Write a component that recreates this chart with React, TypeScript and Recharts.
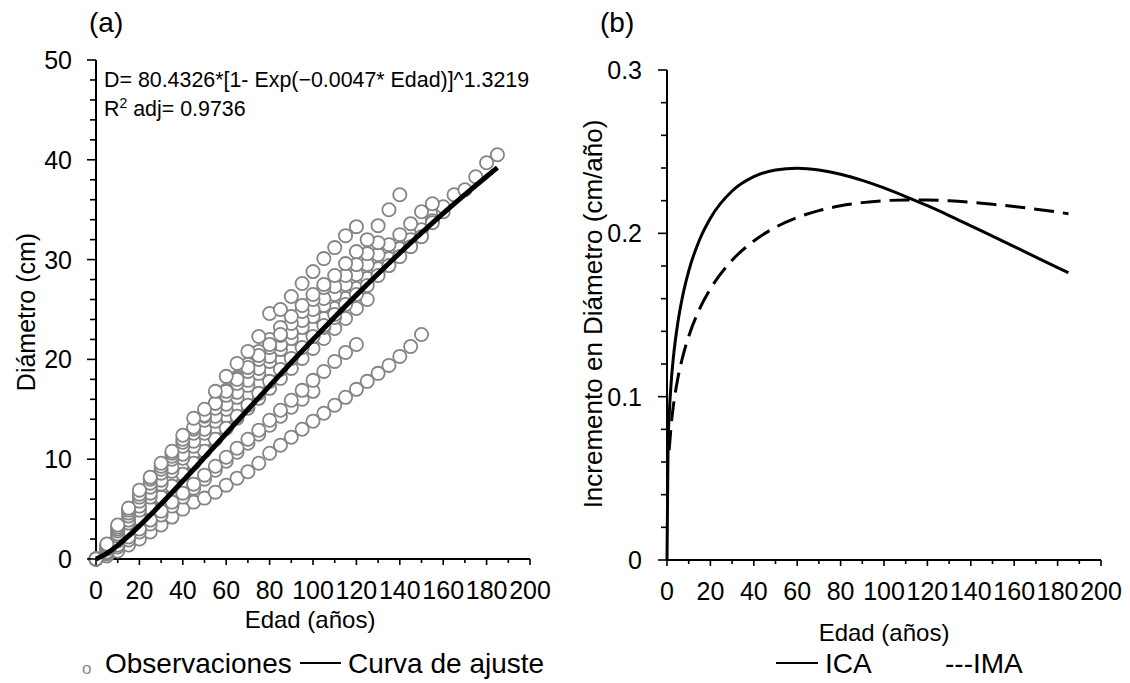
import React from 'react';
import { ComposedChart, Scatter, Line, XAxis, YAxis } from 'recharts';

const FONT = '"Liberation Sans", Arial, Helvetica, sans-serif';

// Ages (years) shared by the observation series: index i -> AGES[i]
const AGES = [0, 5, 10, 15, 20, 25, 30, 35, 40, 45, 50, 55, 60, 65, 70, 75, 80, 85, 90, 95, 100, 105, 110, 115, 120, 125, 130, 135, 140, 145, 150, 155, 160, 165, 170, 175, 180, 185];

const treeA = [0, 1.5, 3.4, 5.1, 6.9, 8.2, 9.6, 10.8, 12.4, 14.1, 15.0, 16.8, 18.3, 19.6, 20.8, 22.3, 24.6, 25.0, 26.3, 27.6, 28.8, 30.1, 31.2, 32.4, 33.3];
const treeM = [0, 1.4, 3.2, 4.9, 6.5, 8.0, 9.3, 10.6, 12.0, 13.2, 14.4, 15.6, 16.8, 18.0, 19.2, 20.4, 21.5, 22.5];
const treeH = [0, 1.3, 3.0, 4.6, 6.2, 7.6, 9.0, 10.3, 11.7, 13.0, 14.3, 15.6, 16.9, 18.2, 19.5, 20.8, 22.0, 23.2, 24.3, 25.4, 26.5, 27.5];
const treeB = [0, 1.2, 2.8, 4.3, 5.8, 7.2, 8.6, 10.0, 11.3, 12.6, 13.9, 15.1, 16.4, 17.6, 18.8, 20.0, 21.2, 22.4, 23.6, 24.8, 26.0, 27.2, 28.4, 29.6, 30.8, 32.0, 33.4, 35.0, 36.5];
const treeG = [0, 1.1, 2.5, 3.9, 5.3, 6.6, 7.9, 9.2, 10.5, 11.8, 13.0, 14.3, 15.5, 16.7, 17.9, 19.1, 20.3, 21.5, 22.7, 23.9, 25.0, 26.1, 27.3, 28.4, 29.5, 30.6, 31.7];
const treeC = [0, 1.0, 2.3, 3.6, 4.9, 6.2, 7.5, 8.8, 10.1, 11.3, 12.6, 13.8, 15.0, 16.2, 17.4, 18.6, 19.8, 21.0, 22.1, 23.2, 24.3, 25.4, 26.5, 27.5, 28.5, 29.5, 30.5, 31.5, 32.5, 33.6, 34.8, 35.6];
const treeL = [0, 0.9, 2.2, 3.5, 4.8, 6.0, 7.2, 8.4, 9.6, 10.7, 11.8, 12.9, 14.0, 15.1, 16.1, 17.1, 18.2, 19.2, 20.3, 21.3, 22.3, 23.2, 24.2];
const treeK = [0, 0.9, 2.1, 3.4, 4.6, 5.9, 7.1, 8.3, 9.5, 10.7, 11.9, 13.1, 14.3, 15.4, 16.5, 17.6, 18.7, 19.8, 20.9, 22.0, 23.1, 24.1, 25.1, 26.1, 27.1, 28.1, 29.1, 30.1, 31.1, 32.0, 33.0, 33.9, 34.8];
const treeD = [0, 0.7, 1.8, 2.9, 4.0, 5.1, 6.2, 7.3, 8.5, 9.6, 10.8, 12.0, 13.1, 14.3, 15.4, 16.6, 17.8, 19.0, 20.1, 21.2, 22.3, 23.4, 24.5, 25.5, 26.5, 27.4, 28.4, 29.4, 30.3, 31.3, 32.3, 33.7, 35.3, 36.5, 37.0, 38.3, 39.7, 40.5];
const treeI = [0, 0.8, 2.0, 3.2, 4.3, 5.5, 6.6, 7.7, 8.8, 9.9, 11.0, 12.0, 13.1, 14.1, 15.1, 16.1, 17.1, 18.1, 19.1, 20.1, 21.1, 22.1, 23.1, 24.1, 25.1, 26.0];
const treeF = [0, 0.6, 1.4, 2.2, 3.0, 3.9, 4.8, 5.7, 6.6, 7.5, 8.4, 9.3, 10.2, 11.1, 12.0, 12.9, 13.9, 14.9, 15.9, 16.9, 17.9, 18.8, 19.8, 20.7, 21.5];
const treeJ = [0, 0.5, 1.2, 1.9, 2.7, 3.5, 4.4, 5.3, 6.2, 7.1, 8.0, 8.9, 9.8, 10.7, 11.6, 12.5, 13.4, 14.3, 15.2, 16.0, 16.8];
const treeE = [0, 0.3, 0.8, 1.4, 2.0, 2.7, 3.4, 4.2, 5.0, 5.7, 6.1, 6.7, 7.4, 8.1, 8.75, 9.6, 10.6, 11.4, 12.2, 13.0, 13.8, 14.6, 15.4, 16.2, 17.0, 17.8, 18.6, 19.4, 20.3, 21.3, 22.5];

const TREES = [treeE, treeJ, treeF, treeI, treeL, treeK, treeD, treeC, treeG, treeB, treeH, treeM, treeA];

// Fitted curve (diameter, cm)
const FIT_AGES = [0, 5, 10, 15, 20, 30, 40, 50, 60, 70, 80, 90, 100, 110, 120, 130, 140, 150, 160, 170, 180, 185];
const FIT_D = [0, 0.56, 1.37, 2.31, 3.32, 5.51, 7.81, 10.18, 12.58, 14.98, 17.35, 19.69, 22.0, 24.25, 26.44, 28.58, 30.66, 32.67, 34.63, 36.51, 38.33, 39.22];

// Panel (b): current (ICA) and mean (IMA) annual increments
const ICA_AGES = [0, 0.5, 1, 2, 3, 5, 7, 10, 15, 20, 30, 40, 50, 60, 70, 80, 90, 100, 110, 120, 130, 140, 150, 160, 170, 180, 185];
const ICA_VALUES = [0, 0.071, 0.0885, 0.11, 0.1247, 0.1454, 0.1603, 0.1769, 0.1961, 0.2093, 0.2259, 0.2347, 0.2388, 0.2399, 0.2388, 0.2362, 0.2324, 0.2278, 0.2225, 0.2169, 0.2109, 0.2046, 0.1983, 0.1919, 0.1854, 0.179, 0.1759];
const IMA_AGES = [1, 2, 3, 5, 7, 10, 15, 20, 30, 40, 50, 60, 70, 80, 90, 100, 110, 120, 130, 140, 150, 160, 170, 180, 185];
const IMA_VALUES = [0.0672, 0.0837, 0.095, 0.1113, 0.1232, 0.1369, 0.1537, 0.166, 0.1835, 0.1953, 0.2037, 0.2097, 0.2139, 0.2169, 0.2188, 0.22, 0.2204, 0.2204, 0.2199, 0.219, 0.2178, 0.2164, 0.2148, 0.213, 0.212];

const X_TICKS = [0, 10, 20, 30, 40, 50, 60, 70, 80, 90, 100, 110, 120, 130, 140, 150, 160, 170, 180, 190, 200];
const Y_LEFT_TICKS = [0, 2, 4, 6, 8, 10, 12, 14, 16, 18, 20, 22, 24, 26, 28, 30, 32, 34, 36, 38, 40, 42, 44, 46, 48, 50];
const Y_RIGHT_TICKS = [0, 0.02, 0.04, 0.06, 0.08, 0.1, 0.12, 0.14, 0.16, 0.18, 0.2, 0.22, 0.24, 0.26, 0.28, 0.3];

const treeData = TREES.map((t) => t.map((d, i) => ({ age: AGES[i], d })));
const fitData = FIT_AGES.map((a, i) => ({ age: a, d: FIT_D[i] }));
const icaData = ICA_AGES.map((a, i) => ({ age: a, v: ICA_VALUES[i] }));
const imaData = IMA_AGES.map((a, i) => ({ age: a, v: IMA_VALUES[i] }));

const TICK_FS = 25;

function XTick(props: any) {
  const { x, y, payload } = props;
  const v = payload.value;
  const major = v % 20 === 0;
  return (
    <g>
      <line x1={x} x2={x} y1={y} y2={y + (major ? 6 : 4)} stroke="#000" strokeWidth={1.6} />
      {major && (
        <text x={x} y={y + 40} textAnchor="middle" fontSize={TICK_FS} fontFamily={FONT} fill="#000">
          {v}
        </text>
      )}
    </g>
  );
}

function YTickLeft(props: any) {
  const { x, y, payload } = props;
  const v = payload.value;
  const major = v % 10 === 0;
  return (
    <g>
      <line x1={x - (major ? 9 : 6)} x2={x} y1={y} y2={y} stroke="#000" strokeWidth={1.6} />
      {major && (
        <text x={x - 24} y={y} dy="0.36em" textAnchor="end" fontSize={TICK_FS} fontFamily={FONT} fill="#000">
          {v}
        </text>
      )}
    </g>
  );
}

function YTickRight(props: any) {
  const { x, y, payload } = props;
  const v = payload.value;
  const major = Math.round(v * 100) % 10 === 0;
  return (
    <g>
      <line x1={x - (major ? 9 : 6)} x2={x} y1={y} y2={y} stroke="#000" strokeWidth={1.6} />
      {major && (
        <text x={x - 25} y={y} dy="0.36em" textAnchor="end" fontSize={TICK_FS} fontFamily={FONT} fill="#000">
          {String(Math.round(v * 10) / 10)}
        </text>
      )}
    </g>
  );
}

function Ring(props: any) {
  const { cx, cy } = props;
  if (cx == null || cy == null) return <g />;
  return <circle cx={cx} cy={cy} r={6.6} fill="#fff" stroke="#858585" strokeWidth={1.8} />;
}

function NoMark() {
  return <g />;
}

const axisLine = { stroke: '#000', strokeWidth: 2 };

export default function App() {
  return (
    <div style={{ position: 'absolute', left: 0, top: 0, width: 1130, height: 683, background: '#fff' }}>
      <div style={{ position: 'absolute', left: 0, top: 0 }}>
        <ComposedChart width={560} height={640} margin={{ top: 60, right: 30, bottom: 51, left: 0 }}>
          <XAxis
            type="number"
            dataKey="age"
            domain={[0, 200]}
            ticks={X_TICKS}
            interval={0}
            height={30}
            tickSize={0}
            tickMargin={0}
            tickLine={false}
            axisLine={axisLine}
            tick={<XTick />}
          />
          <YAxis
            type="number"
            dataKey="d"
            domain={[0, 50]}
            ticks={Y_LEFT_TICKS}
            interval={0}
            width={96}
            tickSize={0}
            tickMargin={0}
            tickLine={false}
            axisLine={axisLine}
            tick={<YTickLeft />}
          />
          {treeData.map((data, i) => (
            <Scatter key={i} data={data} dataKey="d" shape={<Ring />} isAnimationActive={false} />
          ))}
          <Scatter
            data={fitData}
            dataKey="d"
            shape={<NoMark />}
            line={{ stroke: '#000', strokeWidth: 5, fill: 'none' }}
            lineJointType="monotoneX"
            isAnimationActive={false}
          />
        </ComposedChart>
      </div>
      <div style={{ position: 'absolute', left: 560, top: 0 }}>
        <ComposedChart width={570} height={640} margin={{ top: 70, right: 29, bottom: 50, left: 0 }}>
          <XAxis
            type="number"
            dataKey="age"
            domain={[0, 200]}
            ticks={X_TICKS}
            interval={0}
            height={30}
            tickSize={0}
            tickMargin={0}
            tickLine={false}
            axisLine={axisLine}
            tick={<XTick />}
          />
          <YAxis
            type="number"
            dataKey="v"
            domain={[0, 0.3]}
            ticks={Y_RIGHT_TICKS}
            interval={0}
            width={107}
            tickSize={0}
            tickMargin={0}
            tickLine={false}
            axisLine={axisLine}
            tick={<YTickRight />}
          />
          <Line
            data={icaData}
            dataKey="v"
            type="monotone"
            stroke="#000"
            strokeWidth={3}
            dot={false}
            activeDot={false}
            isAnimationActive={false}
          />
          <Line
            data={imaData}
            dataKey="v"
            type="monotone"
            stroke="#000"
            strokeWidth={3}
            strokeDasharray="20 9"
            dot={false}
            activeDot={false}
            isAnimationActive={false}
          />
        </ComposedChart>
      </div>
      <svg
        width={1130}
        height={683}
        style={{ position: 'absolute', left: 0, top: 0, pointerEvents: 'none' }}
        fontFamily={FONT}
      >
        <text x={89} y={32} fontSize={28} fill="#000">(a)</text>
        <text x={600} y={32} fontSize={28} fill="#000">(b)</text>
        <text x={104} y={87} fontSize={21.4} fill="#000">D= 80.4326*[1- Exp(−0.0047* Edad)]^1.3219</text>
        <text x={104} y={116} fontSize={21.4} fill="#000">
          R<tspan fontSize={14} dy={-8}>2</tspan>
          <tspan dy={8}> adj= 0.9736</tspan>
        </text>
        <text x={0} y={0} fontSize={25} fill="#000" textAnchor="middle" transform="translate(35,312) rotate(-90)">
          Diámetro (cm)
        </text>
        <text x={310} y={628} fontSize={24} fill="#000" textAnchor="middle">Edad (años)</text>
        <text x={0} y={0} fontSize={26} fill="#000" textAnchor="middle" transform="translate(602,314) rotate(-90)">
          Incremento en Diámetro (cm/año)
        </text>
        <text x={884} y={641} fontSize={24} fill="#000" textAnchor="middle">Edad (años)</text>
        <text x={82} y={674} fontSize={17} fill="#888">o</text>
        <text x={105} y={673} fontSize={28} fill="#000">Observaciones</text>
        <line x1={300} x2={341} y1={663} y2={663} stroke="#000" strokeWidth={2} />
        <text x={348} y={673} fontSize={28} fill="#000">Curva de ajuste</text>
        <line x1={776} x2={818} y1={663} y2={663} stroke="#000" strokeWidth={2} />
        <text x={825} y={673} fontSize={28} fill="#000">ICA</text>
        <text x={945} y={673} fontSize={28} fill="#000">---IMA</text>
      </svg>
    </div>
  );
}
